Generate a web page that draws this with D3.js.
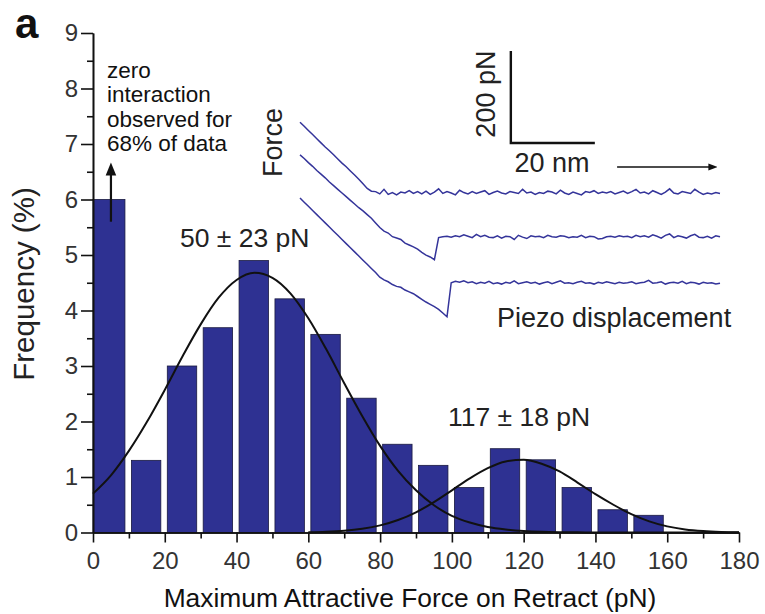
<!DOCTYPE html>
<html>
<head>
<meta charset="utf-8">
<script src="https://cdn.jsdelivr.net/npm/d3@7"></script>
<style>
  body { margin: 0; background: #fff; }
  svg { font-family: "Liberation Sans", Arial, Helvetica, sans-serif; }
  .axis path, .axis line { stroke: #111; stroke-width: 1.6; }
  .axis text { fill: #333; font-size: 24px; }
</style>
</head>
<body>
<div id="chart"></div>
<script>
// histogram bins (pN, left edge) and frequency (%)
var binStart = [0, 10, 20, 30, 40, 50, 60, 70, 80, 90, 100, 110, 120, 130, 140, 150];
var freq = [6.0, 1.3, 3.0, 3.69, 4.9, 4.21, 3.57, 2.42, 1.59, 1.21, 0.81, 1.51, 1.31, 0.81, 0.41, 0.31];

// gaussian fit curves
var fit1X = [0, 5, 10, 15, 20, 25, 30, 35, 40, 45, 50, 55, 60, 65, 70, 75, 80, 85, 90, 95,
             100, 105, 110, 115, 120, 125, 130, 135, 140, 145, 150, 155, 160, 165, 170, 175, 180];
var fit1Y = [0.70, 1.03, 1.47, 1.99, 2.57, 3.18, 3.75, 4.23, 4.55, 4.68, 4.59, 4.31, 3.86, 3.30, 2.69, 2.10,
             1.56, 1.11, 0.76, 0.49, 0.30, 0.18, 0.10, 0.055, 0.028, 0.013, 0.006, 0.003, 0.001, 0, 0, 0, 0, 0, 0, 0, 0];
var fit2X = [60, 65, 70, 75, 80, 85, 90, 95, 100, 105, 110, 115, 120, 125, 130, 135, 140, 145, 150, 155,
             160, 165, 170, 175, 180];
var fit2Y = [0.006, 0.015, 0.033, 0.068, 0.128, 0.225, 0.364, 0.547, 0.76, 0.976, 1.16, 1.28, 1.31, 1.24,
             1.10, 0.90, 0.69, 0.50, 0.33, 0.20, 0.11, 0.055, 0.025, 0.01, 0.004];

var xTicks = [0, 20, 40, 60, 80, 100, 120, 140, 160, 180];
var yTicks = [0, 1, 2, 3, 4, 5, 6, 7, 8, 9];
var fitLabels = ["50 \u00b1 23 pN", "117 \u00b1 18 pN"];
var noteLines = ["zero", "interaction", "observed for", "68% of data"];

// inset force curves: displacement (nm) and force (pN) for three retract traces
var traceNm = d3.range(0, 101);
var trace1 = [154, 145, 136, 127, 118, 109, 100, 92, 83, 74, 65, 57, 48, 39, 30, 20, 10, 4, 3, -2,
  8, -3, 1, -4, 2, 0, 5, -1, 3, -2, 4, -3, 2, 9, -1, 3, 0, -4, 6, 1,
  -2, 3, -1, 2, 5, -3, 1, 4, 0, -2, 3, 1, -1, 8, 0, 2, -3, 1, -1, 4,
  2, -2, 6, 0, -3, 2, -1, -4, 3, 1, 5, -1, 2, 0, 3, -2, 1, 4, -1, 3,
  8, 0, 2, -2, 5, 1, -3, 2, 9, 0, -2, 3, 1, -1, 8, 2, -3, 0, -2, 1, -1];
var trace2 = [178, 170, 161, 153, 144, 136, 128, 119, 111, 103, 95, 87, 79, 71, 63, 56, 48, 40, 30, 20,
  12, 8, 0, -3, -6, -14, -18, -22, -27, -34, -40, -44, -50, -2, 0, 1, -1, 2, 0, 4,
  1, -2, 5, 0, 3, -1, -2, 2, -3, 1, 0, -6, 3, -1, -4, 2, 0, 1, -2, 3,
  0, -1, 2, 1, -2, 0, -1, 3, -2, 1, 0, -5, -4, 0, 1, -1, 2, 0, 1, -2,
  3, 0, 2, -1, 4, 1, -3, 3, 6, -2, 2, 0, -3, 2, 5, -1, -2, 1, -3, 2, 0];
var trace3 = [184, 175, 166, 157, 148, 139, 130, 121, 112, 103, 94, 85, 76, 67, 58, 49, 40, 31, 22, 12,
  6, 2, -4, -8, -10, -16, -20, -24, -30, -36, -42, -47, -52, -58, -66, -74, 0, 3, 1, 4,
  0, 2, -2, 1, -1, 3, -2, 0, -3, 1, -1, 4, -2, 0, 2, -1, 1, -3, 0, 2,
  -2, 1, 4, -1, 0, -2, 1, 3, -1, 0, -3, 1, -1, 2, 0, -2, 1, -1, 0, 2,
  -2, 0, 1, 5, -1, 0, 2, -3, 0, 1, -1, 3, -2, 1, 0, -3, 1, -1, 0, -3, -1];
var traceOffset = [0, -95, -195];

var width = 765, height = 614;
var svg = d3.select("#chart").append("svg")
  .attr("width", width)
  .attr("height", height);

var x = d3.scaleLinear().domain([0, 180]).range([93, 739]);
var y = d3.scaleLinear().domain([0, 9]).range([532.5, 33]);

// bars
var bars = binStart.map(function(b, i){ return {bin: b, f: freq[i]}; });
svg.selectAll(".bar").data(bars).enter().append("rect")
  .attr("class", "bar")
  .attr("x", function(d){ return x(d.bin === 0 ? 0 : d.bin + 0.7); })
  .attr("width", function(d){ return x(d.bin + 8.9) - x(d.bin === 0 ? 0 : d.bin + 0.7); })
  .attr("y", function(d){ return y(d.f); })
  .attr("height", function(d){ return y(0) - y(d.f); })
  .attr("fill", "#2e3192")
  .attr("stroke", "#1a1a40")
  .attr("stroke-width", 0.8);

// fit curves
var line = d3.line()
  .x(function(d){ return x(d[0]); })
  .y(function(d){ return y(d[1]); })
  .curve(d3.curveMonotoneX);
[d3.zip(fit1X, fit1Y), d3.zip(fit2X, fit2Y)].forEach(function(pts){
  svg.append("path")
    .attr("d", line(pts))
    .attr("fill", "none")
    .attr("stroke", "#111")
    .attr("stroke-width", 2);
});

// axes
svg.append("g").attr("class", "axis")
  .attr("transform", "translate(" + x(0) + ",0)")
  .call(d3.axisLeft(y).tickValues(yTicks).tickSize(12).tickPadding(3).tickSizeOuter(0));
svg.append("g").attr("class", "axis")
  .attr("transform", "translate(" + x(0) + ",0)")
  .call(d3.axisLeft(y).tickValues(d3.range(0.5, 9, 1)).tickSize(6).tickFormat("").tickSizeOuter(0));

svg.append("g").attr("class", "axis")
  .attr("transform", "translate(0," + y(0) + ")")
  .call(d3.axisBottom(x).tickValues(xTicks).tickSize(10).tickPadding(9).tickSizeOuter(0));
svg.append("g").attr("class", "axis")
  .attr("transform", "translate(0," + y(0) + ")")
  .call(d3.axisBottom(x).tickValues(d3.range(10, 180, 20)).tickSize(6).tickFormat("").tickSizeOuter(0));

// axis titles
svg.append("text")
  .attr("x", 410).attr("y", 607)
  .attr("text-anchor", "middle")
  .attr("font-size", 26.4)
  .attr("fill", "#111")
  .text("Maximum Attractive Force on Retract (pN)");
svg.append("text")
  .attr("transform", "translate(34,284) rotate(-90)")
  .attr("text-anchor", "middle")
  .attr("font-size", 29.5)
  .attr("fill", "#222")
  .text("Frequency (%)");

// panel letter
svg.append("text")
  .attr("x", 15).attr("y", 38)
  .attr("font-size", 42)
  .attr("font-weight", "bold")
  .attr("fill", "#111")
  .text("a");

// zero-interaction note and arrow
svg.append("defs").append("marker")
  .attr("id", "head")
  .attr("viewBox", "0 0 10 10")
  .attr("refX", 5).attr("refY", 5)
  .attr("markerWidth", 6).attr("markerHeight", 6)
  .attr("orient", "auto")
  .append("path").attr("d", "M0,1 L10,5 L0,9 z").attr("fill", "#111");

svg.append("line")
  .attr("x1", x(5)).attr("x2", x(5))
  .attr("y1", y(5.6)).attr("y2", y(6.55))
  .attr("stroke", "#111").attr("stroke-width", 2.2)
  .attr("marker-end", "url(#head)");

var note = svg.append("text")
  .attr("x", x(3.9)).attr("y", 78)
  .attr("font-size", 22.5)
  .attr("fill", "#111");
note.selectAll("tspan").data(noteLines).enter().append("tspan")
  .attr("x", x(3.9))
  .attr("dy", function(d, i){ return i === 0 ? 0 : 24.3; })
  .text(function(d){ return d; });

// fit labels
svg.append("text")
  .attr("x", 180).attr("y", 247)
  .attr("font-size", 26.5).attr("fill", "#222")
  .text(fitLabels[0]);
svg.append("text")
  .attr("x", 448).attr("y", 426)
  .attr("font-size", 26.5).attr("fill", "#222")
  .text(fitLabels[1]);

// inset: force vs piezo displacement
var ix = d3.scaleLinear().domain([0, 100]).range([300, 720]);
var iy = d3.scaleLinear().domain([0, 200]).range([193, 101]);

var tline = d3.line()
  .x(function(d){ return ix(d[0]); })
  .y(function(d){ return iy(d[1]); });
[trace1, trace2, trace3].forEach(function(tr, k){
  var pts = traceNm.map(function(n, i){ return [n, tr[i] + traceOffset[k]]; });
  svg.append("path")
    .attr("d", tline(pts))
    .attr("fill", "none")
    .attr("stroke", "#34349a")
    .attr("stroke-width", 1.5);
});

// scale bar 20 nm x 200 pN
svg.append("path")
  .attr("d", "M" + ix(50.2) + "," + iy(308.7) + "V" + iy(108.7) + "H" + ix(70.2))
  .attr("fill", "none")
  .attr("stroke", "#111")
  .attr("stroke-width", 2.4);
svg.append("text")
  .attr("x", ix(60)).attr("y", iy(45))
  .attr("text-anchor", "middle")
  .attr("font-size", 27).attr("fill", "#222")
  .text("20 nm");
svg.append("text")
  .attr("transform", "translate(" + ix(46.5) + "," + iy(215) + ") rotate(-90)")
  .attr("text-anchor", "middle")
  .attr("font-size", 27).attr("fill", "#222")
  .text("200 pN");
svg.append("text")
  .attr("transform", "translate(" + ix(-4.2) + "," + iy(110) + ") rotate(-90)")
  .attr("text-anchor", "middle")
  .attr("font-size", 27).attr("fill", "#222")
  .text("Force");

svg.append("line")
  .attr("x1", ix(75.5)).attr("x2", ix(98.3))
  .attr("y1", iy(56.5)).attr("y2", iy(56.5))
  .attr("stroke", "#111").attr("stroke-width", 1.5)
  .attr("marker-end", "url(#head)");

svg.append("text")
  .attr("x", 497).attr("y", 327)
  .attr("font-size", 27).attr("fill", "#222")
  .text("Piezo displacement");
</script>
</body>
</html>
